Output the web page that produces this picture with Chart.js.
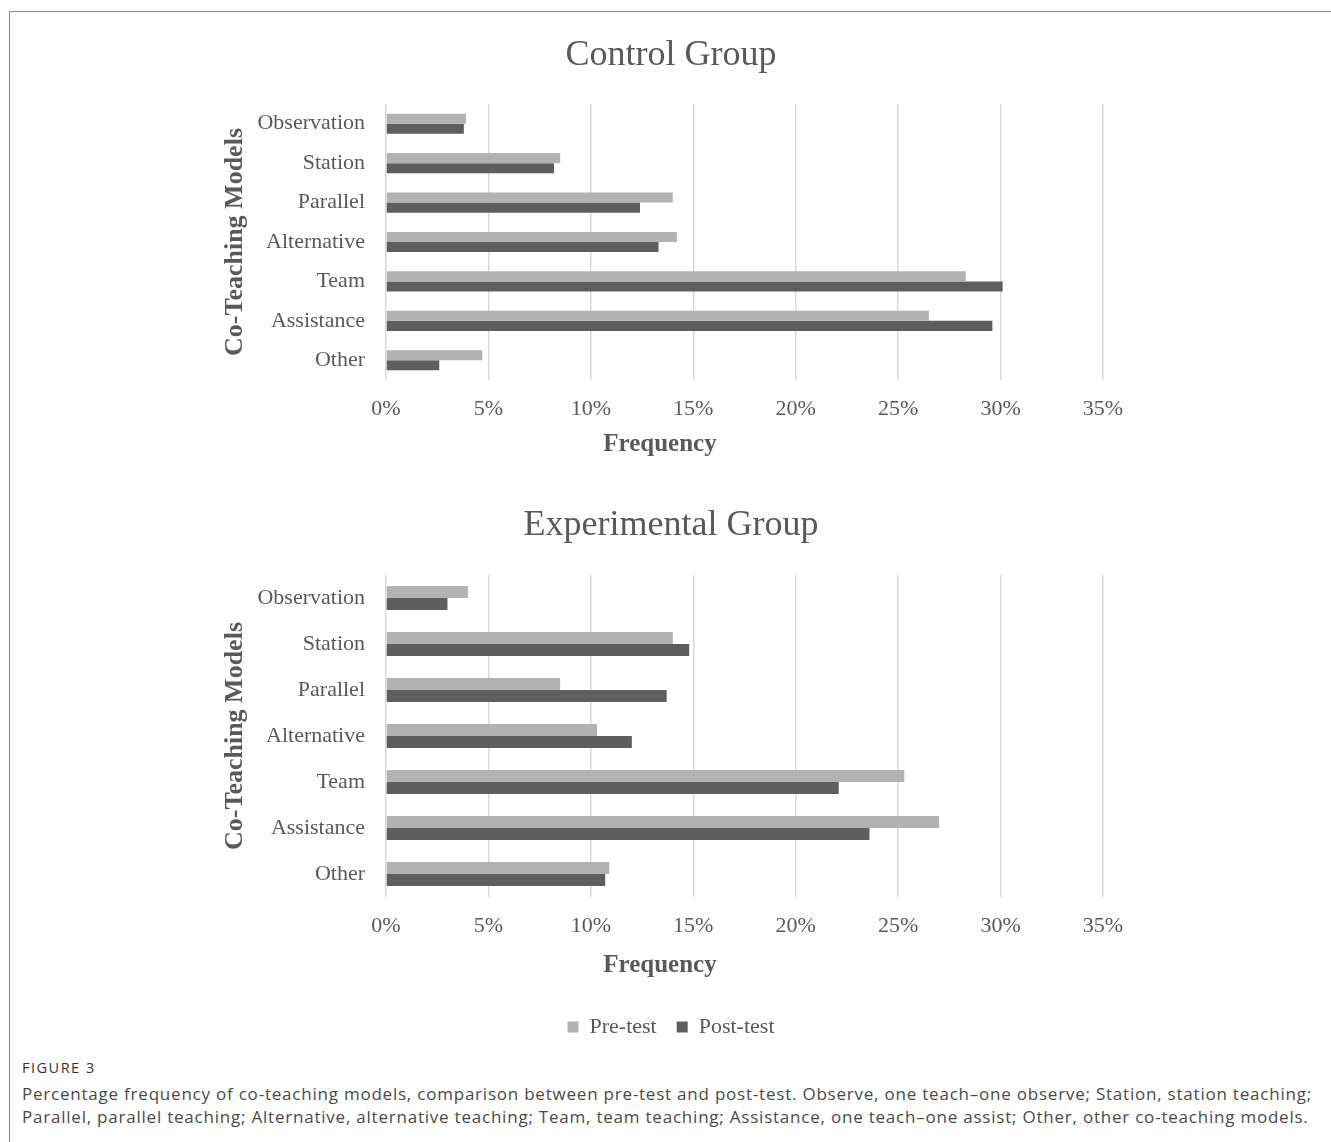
<!DOCTYPE html>
<html>
<head>
<meta charset="utf-8">
<title>Co-teaching models</title>
<script src="https://cdn.jsdelivr.net/npm/chart.js@4/dist/chart.umd.min.js"></script>
<style>
  html, body { margin: 0; padding: 0; background: #ffffff; }
  #page { position: relative; width: 1331px; height: 1142px; overflow: hidden; background: #fff; }
  #frame { position: absolute; left: 9px; top: 11px; width: 1330px; height: 1140px;
           border-left: 1px solid #8a8a8a; border-top: 1px solid #8a8a8a; }
  canvas { position: absolute; left: 0; }
  #c1 { top: 0; }
  #c2 { top: 470px; }
  #fig { position: absolute; left: 22px; top: 1058px; font-family: "Open Sans", sans-serif;
         font-size: 14.5px; color: #333; letter-spacing: 1.5px; }
  #cap { position: absolute; left: 22px; top: 1082px; font-family: "Open Sans", sans-serif;
         font-size: 17px; line-height: 23px; color: #4a4a4a; white-space: nowrap; letter-spacing: 0.78px; }
</style>
</head>
<body>
<div id="page">
  <div id="frame"></div>
  <canvas id="c1" width="1331" height="470"></canvas>
  <canvas id="c2" width="1331" height="578"></canvas>
  <div id="fig">FIGURE 3</div>
  <div id="cap">Percentage frequency of co-teaching models, comparison between pre-test and post-test. Observe, one teach–one observe; Station, station teaching;<br>Parallel, parallel teaching; Alternative, alternative teaching; Team, team teaching; Assistance, one teach–one assist; Other, other co-teaching models.</div>
</div>
<script>
// Co-teaching model categories
const models = ['Observation', 'Station', 'Parallel', 'Alternative', 'Team', 'Assistance', 'Other'];

// Control group, percentage frequency
const controlPre  = [3.9, 8.5, 14.0, 14.2, 28.3, 26.5, 4.7];
const controlPost = [3.8, 8.2, 12.4, 13.3, 30.1, 29.6, 2.6];

// Experimental group, percentage frequency
const experimentalPre  = [4.0, 14.0, 8.5, 10.3, 25.3, 27.0, 10.9];
const experimentalPost = [3.0, 14.8, 13.7, 12.0, 22.1, 23.6, 10.7];

// Axis tick values (percent)
const xTicks = [0, 5, 10, 15, 20, 25, 30, 35];

const seriesNames = ['Pre-test', 'Post-test'];
const PRE_COLOR = '#b2b2b2';
const POST_COLOR = '#5e5e5e';
const TEXT = '#595959';
const GRID = '#d9d9d9';
const SERIF = '"Liberation Serif", "Times New Roman", serif';

// Draws the horizontal axis title below the tick labels
const axisTitlePlugin = {
  id: 'axisTitle',
  afterDraw(chart, args, opts) {
    const ctx = chart.ctx;
    ctx.save();
    ctx.font = 'bold 25px ' + SERIF;
    ctx.fillStyle = TEXT;
    ctx.textAlign = 'center';
    ctx.textBaseline = 'middle';
    ctx.fillText(opts.text, opts.x, chart.chartArea.bottom + opts.dy);
    ctx.restore();
  }
};

function makeChart(id, title, pre, post, cfg) {
  return new Chart(document.getElementById(id), {
    type: 'bar',
    data: {
      labels: models,
      datasets: [
        { label: seriesNames[0], data: pre, backgroundColor: PRE_COLOR, borderWidth: 0 },
        { label: seriesNames[1], data: post, backgroundColor: POST_COLOR, borderWidth: 0 }
      ]
    },
    options: {
      indexAxis: 'y',
      responsive: false,
      animation: false,
      devicePixelRatio: 1,
      layout: { padding: { left: 239, right: 228, top: 0, bottom: 0 } },
      datasets: { bar: { categoryPercentage: cfg.catPct, barPercentage: 1.0 } },
      scales: {
        x: {
          min: 0, max: 35,
          afterBuildTicks(scale) { scale.ticks = xTicks.map(v => ({ value: v })); },
          afterFit(scale) { scale.height = cfg.xHeight; },
          grid: { color: GRID, lineWidth: 1.5, drawTicks: false },
          border: { display: false },
          ticks: {
            padding: 16,
            color: TEXT,
            font: { family: SERIF, size: 22 },
            callback: v => v + '%'
          }
        },
        y: {
          afterFit(scale) { scale.width = 147; },
          grid: { display: false, drawTicks: false },
          border: { display: false },
          ticks: { padding: 21, color: TEXT, font: { family: SERIF, size: 22 } },
          title: {
            display: true,
            text: 'Co-Teaching Models',
            color: TEXT,
            font: { family: SERIF, size: 26, weight: 'bold' },
            padding: { top: -19.6, bottom: 0 }
          }
        }
      },
      plugins: {
        title: {
          display: true,
          text: title,
          color: TEXT,
          font: { family: SERIF, size: 36, weight: 'normal' },
          padding: { top: 34, bottom: cfg.titleBottom }
        },
        legend: cfg.legend ? {
          display: true,
          position: 'bottom',
          labels: {
            boxWidth: 11, boxHeight: 11, padding: 20,
            color: TEXT,
            font: { family: SERIF, size: 22 }
          }
        } : { display: false },
        tooltip: { enabled: false },
        axisTitle: { text: 'Frequency', x: 660, dy: cfg.freqDy }
      }
    },
    plugins: [axisTitlePlugin]
  });
}

makeChart('c1', 'Control Group', controlPre, controlPost,
  { catPct: 0.51, xHeight: 90, titleBottom: 26.8, freqDy: 65, legend: false });
makeChart('c2', 'Experimental Group', experimentalPre, experimentalPost,
  { catPct: 0.52, xHeight: 99, titleBottom: 27.8, freqDy: 69, legend: true });
</script>
</body>
</html>
